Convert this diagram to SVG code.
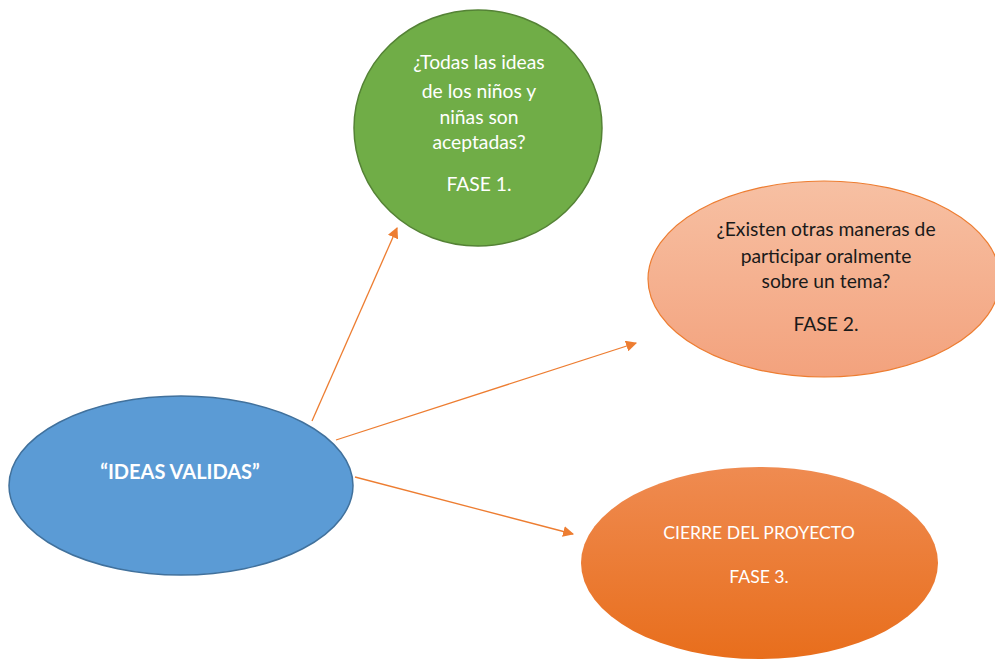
<svg xmlns="http://www.w3.org/2000/svg" width="995" height="661" viewBox="0 0 995 661">
<style>
text{font-family:Lato,"Open Sans","Liberation Sans",sans-serif;text-anchor:middle}
.w{fill:#ffffff;font-size:19.3px}
.k{fill:#1a1a1a;font-size:19.3px}
.c{fill:#ffffff;font-size:17.6px}
.t{fill:#ffffff;font-size:20px;font-weight:bold}
.conn{stroke:#ED7D31;stroke-width:1.3;fill:none}
</style>
<defs>
<linearGradient id="gSalmon" x1="0" y1="0" x2="0" y2="1">
<stop offset="0" stop-color="#F7C0A3"/>
<stop offset="1" stop-color="#F3A27D"/>
</linearGradient>
<linearGradient id="gOrange" x1="0" y1="0" x2="0" y2="1">
<stop offset="0" stop-color="#EF8B51"/>
<stop offset="1" stop-color="#E86E1C"/>
</linearGradient>
<marker id="ah" viewBox="0 0 10 10" refX="9" refY="5" markerWidth="11" markerHeight="11" markerUnits="userSpaceOnUse" orient="auto">
<path d="M0,0 L10,5 L0,10 z" fill="#ED7D31"/>
</marker>
</defs>
<g id="connectors">
<line class="conn" x1="312" y1="421" x2="397" y2="228" marker-end="url(#ah)"/>
<line class="conn" x1="336" y1="440" x2="636" y2="343" marker-end="url(#ah)"/>
<line class="conn" x1="355" y1="477" x2="573" y2="534" marker-end="url(#ah)"/>
</g>
<g id="node-fase1">
<ellipse cx="478" cy="128" rx="124" ry="118" fill="#70AD47" stroke="#548235" stroke-width="1.5"/>
<text class="w" x="479" y="69">¿Todas las ideas</text>
<text class="w" x="479" y="98">de los niños y</text>
<text class="w" x="479" y="124">niñas son</text>
<text class="w" x="479" y="149">aceptadas?</text>
<text class="w" x="479" y="191">FASE 1.</text>
</g>
<g id="node-fase2">
<ellipse cx="824" cy="279" rx="176" ry="98" fill="url(#gSalmon)" stroke="#ED7D31" stroke-width="1.2"/>
<text class="k" x="826" y="236">¿Existen otras maneras de</text>
<text class="k" x="826" y="263">participar oralmente</text>
<text class="k" x="826" y="288">sobre un tema?</text>
<text class="k" x="826" y="331">FASE 2.</text>
</g>
<g id="node-fase3">
<ellipse cx="759.5" cy="563" rx="178.5" ry="96" fill="url(#gOrange)"/>
<text class="c" x="759" y="539">CIERRE DEL PROYECTO</text>
<text class="c" x="759" y="583">FASE 3.</text>
</g>
<g id="node-ideas">
<ellipse cx="181" cy="485.5" rx="172" ry="89.5" fill="#5B9BD5" stroke="#41719C" stroke-width="1.5"/>
<text class="t" x="180" y="479">“IDEAS VALIDAS”</text>
</g>
</svg>
